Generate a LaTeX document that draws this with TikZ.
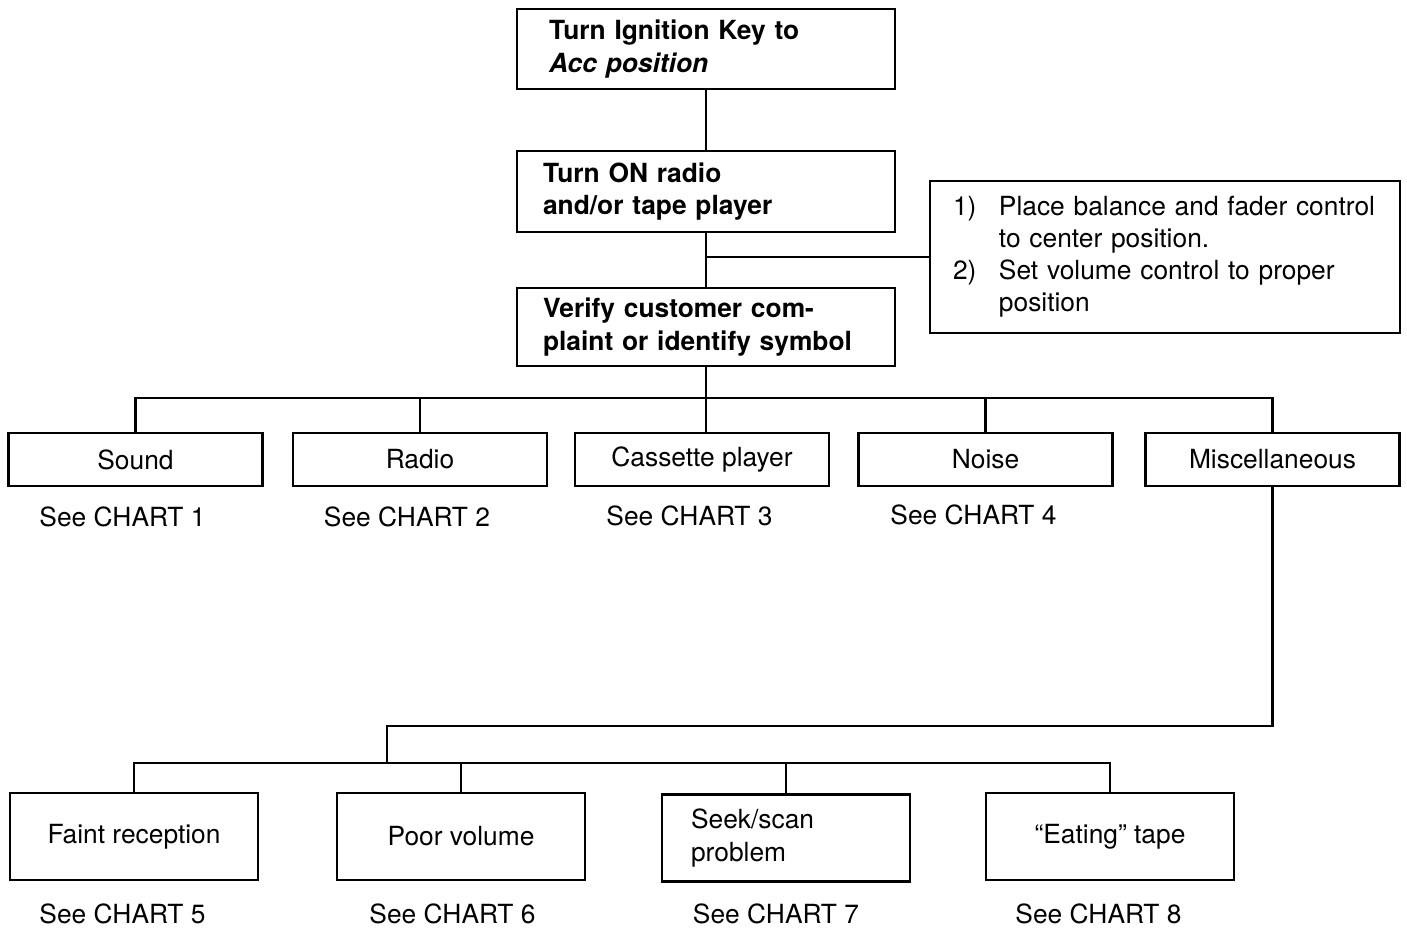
\documentclass[tikz,border=0pt]{standalone}
\usepackage{fontspec}
\setmainfont{TeX Gyre Heros}
\begin{document}
\begin{tikzpicture}[x=0.02cm,y=-0.02cm,
  font=\fontsize{15}{18.7}\selectfont,
  line width=1.4pt,
  box/.style={draw, line width=1.4pt, inner sep=0pt},
  lbox/.style={box, align=left, font=\fontsize{15}{18.7}\selectfont\bfseries},
  rowbox/.style={box, minimum width=5.08cm, minimum height=1.06cm},
  botbox/.style={box, minimum width=4.96cm, minimum height=1.74cm},
  lbl/.style={inner sep=0pt}]
\useasboundingbox (0,0) rectangle (1407,931);
% top chain
\node[lbox, inner xsep=0.64cm, text width=6.28cm, minimum height=1.6cm] (b1) at (706,49)
  {Turn Ignition Key to\\ {\itshape Acc position}};
\node[lbox, inner xsep=0.52cm, text width=6.52cm, minimum height=1.62cm] (b2) at (706,191.5)
  {Turn ON radio\\ and/or tape player};
\node[lbox, inner xsep=0.52cm, text width=6.52cm, minimum height=1.56cm] (b3) at (706,327)
  {Verify customer com-\\ plaint or identify symbol};
\node[box, inner xsep=0.46cm, text width=8.48cm, minimum height=3.04cm, align=left,
  font=\fontsize{15}{18.1}\selectfont] (note) at (1165,257)
  {\raisebox{-0.1cm}{\begin{tabular}{@{}l@{\hspace{0.45cm}}l@{}}
   1) & Place balance and fader control\\
      & to center position.\\
   2) & Set volume control to proper\\
      & position
   \end{tabular}}};
% row
\node[rowbox] (sound) at (135.5,459.5) {Sound};
\node[rowbox] (radio) at (420,459.5) {Radio};
\node[rowbox] (cass) at (702,459.5) {Cassette player};
\node[rowbox] (noise) at (985.5,459.5) {Noise};
\node[rowbox] (misc) at (1272.5,459.5) {Miscellaneous};
\node[lbl] (c1) at (122.5,517) {See CHART 1};
\node[lbl] (c2) at (407,517) {See CHART 2};
\node[lbl] (c3) at (689.5,516) {See CHART 3};
\node[lbl] (c4) at (973.5,515) {See CHART 4};
% bottom
\node[botbox] (faint) at (134,836.5) {Faint reception};
\node[botbox] (poor) at (461,836.5) {Poor volume};
\node[botbox, inner xsep=0.58cm, text width=3.8cm, align=left] (seek) at (786,838)
  {Seek/scan\\ problem};
\node[botbox] (eat) at (1110,836.5) {``Eating'' tape};
\node[lbl] (c5) at (122.5,914) {See CHART 5};
\node[lbl] (c6) at (452.5,914) {See CHART 6};
\node[lbl] (c7) at (776,914) {See CHART 7};
\node[lbl] (c8) at (1098.5,914) {See CHART 8};
% connectors
\draw (b1.south) -- (b2.north);
\draw (b2.south) -- (b3.north);
\draw (b2.south |- note.west) -- (note.west);
\coordinate (bus) at (706,398);
\draw (sound.north) |- (bus) -| (misc.north);
\draw (radio.north) -- (radio.north |- bus);
\draw (noise.north) -- (noise.north |- bus);
\draw (b3.south) -- (b3.south |- cass.north);
\coordinate (j) at (387,726);
\coordinate (bus2) at (387,763);
\draw (misc.south) |- (j) -- (bus2);
\draw (faint.north) |- (bus2) -| (eat.north);
\draw (poor.north) -- (poor.north |- bus2);
\draw (seek.north) -- (seek.north |- bus2);
\end{tikzpicture}
\end{document}
